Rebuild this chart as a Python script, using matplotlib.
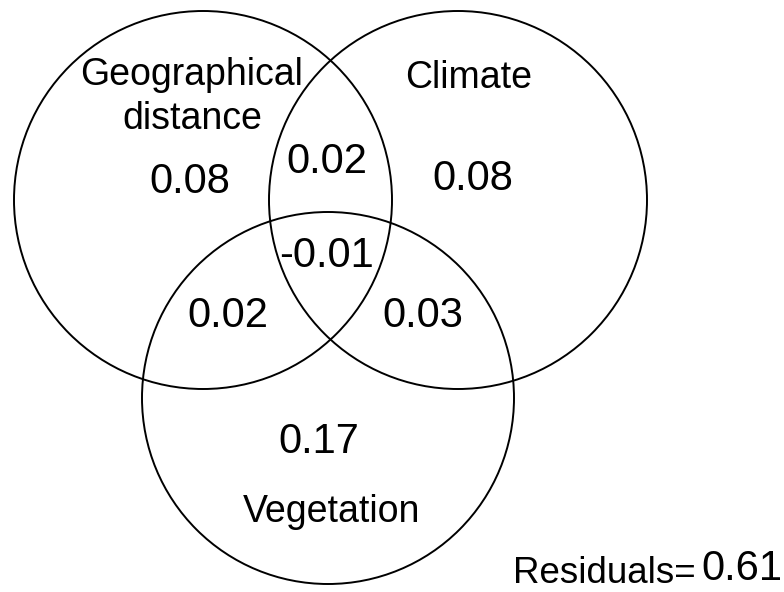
import matplotlib.pyplot as plt
from matplotlib.patches import Circle

# variance partitioning values
set_names = ['Geographical', 'distance', 'Climate', 'Vegetation']
region_keys = ['G', 'C', 'V', 'GC', 'GV', 'CV', 'GCV']
region_values = [0.08, 0.08, 0.17, 0.02, 0.02, 0.03, -0.01]
residuals = 0.61

# layout (pixel coords, y down, text at baseline)
circle_xy = [(203, 200), (458, 200), (328, 398)]
circle_r = [189, 189, 186]
name_xy = [(192, 85), (192, 129), (469, 88), (332, 522)]
value_xy = {'G': (190, 193), 'C': (473, 190), 'V': (319, 453),
            'GC': (327, 173), 'GV': (228, 327), 'CV': (423, 327),
            'GCV': (327, 267)}

plt.rcParams['font.family'] = ['Liberation Sans', 'DejaVu Sans']

fig = plt.figure(figsize=(7.84, 5.92), dpi=100)
ax = fig.add_axes([0, 0, 1, 1])
ax.set_xlim(0, 784)
ax.set_ylim(592, 0)
ax.set_aspect('equal')
ax.axis('off')

for (cx, cy), r in zip(circle_xy, circle_r):
    ax.add_patch(Circle((cx, cy), r, fill=False, ec='black', lw=1.4))

for name, (x, y) in zip(set_names, name_xy):
    ax.text(x, y, name, ha='center', va='baseline', fontsize=27)

for key, val in zip(region_keys, region_values):
    x, y = value_xy[key]
    ax.text(x, y, f'{val:.2f}', ha='center', va='baseline', fontsize=30)

ax.text(513, 583, 'Residuals=', ha='left', va='baseline', fontsize=26.5)
ax.text(782, 580, f'{residuals:.2f}', ha='right', va='baseline', fontsize=30)

plt.savefig('out.png', dpi=100)
